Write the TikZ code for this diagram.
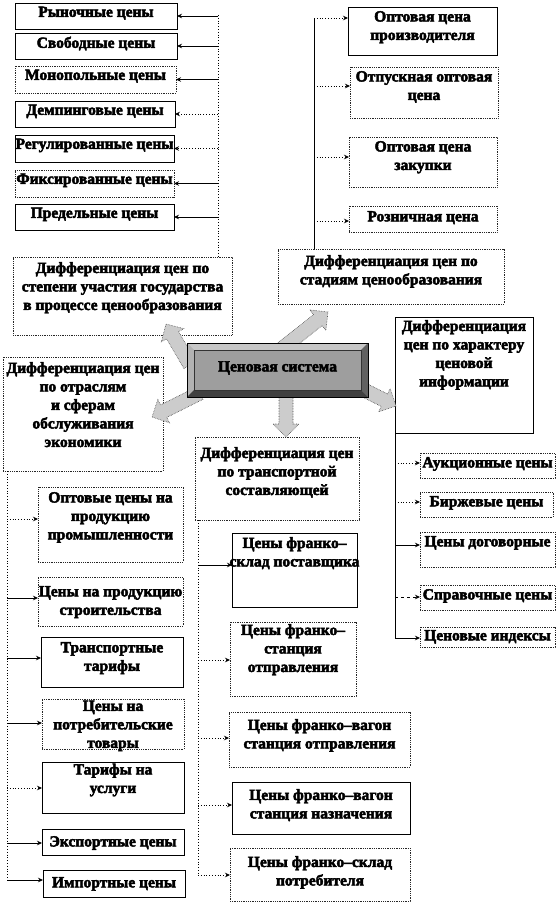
\documentclass[tikz,border=0pt]{standalone}
\usepackage{fontspec}
\setmainfont{Liberation Serif}[BoldFeatures={FakeBold=3}]
\usetikzlibrary{arrows.meta,calc}
\tikzset{
 bxs/.style={draw=black, line width=0.8pt, inner sep=0pt, outer sep=0pt},
 bxd/.style={draw=black!85, line width=0.8pt, densely dotted, inner sep=0pt, outer sep=0pt},
 txt/.style={font=\fontsize{15.5}{18.5}\selectfont\bfseries, align=center, inner sep=0pt},
 trunks/.style={line width=0.8pt},
 trunkd/.style={line width=0.8pt, dotted},
 cs/.style={line width=0.8pt, -{Stealth[length=5pt,width=4.5pt]}},
 cd/.style={cs, dotted},
 barrow/.style={draw=black!70, densely dotted, line width=0.6pt, fill=black!20},
}
\newcommand\bx[8][4]{%
 \node[#3, anchor=north west, minimum width={#6pt-#4pt}, minimum height={#7pt-#5pt}] (#2) at (#4,#5) {};
 \node[txt, anchor=north] (#2t) at ([yshift=-#1pt]#2.north) {#8};
}
\newcommand\barr[4]{%
 \pgfmathsetmacro\bang{atan2(-(#4-#2),#3-#1)}%
 \pgfmathsetmacro\blen{veclen(#3-#1,#4-#2)}%
 \begin{scope}[shift={(#1,#2)},rotate=\bang]
 \draw[barrow] (0,-7) -- (\blen-13,-7) -- (\blen-13,-13) -- (\blen,0) -- (\blen-13,13) -- (\blen-13,7) -- (0,7) -- cycle;
 \end{scope}}
\begin{document}
\begin{tikzpicture}[x=1pt,y=-1pt]
\useasboundingbox[fill=white] (0,0) rectangle (557,905);
% state participation
\bx[3.5]{g1}{bxs}{15}{3}{177}{29}{Рыночные цены}
\bx[3.5]{g2}{bxs}{15}{33}{177}{59}{Свободные цены}
\bx[3.5]{g3}{bxd}{15}{66}{176}{93}{Монопольные цены}
\bx[3.5]{g4}{bxs}{15}{101}{175}{127}{Демпинговые цены}
\bx[3.5]{g5}{bxs}{15}{135}{174}{162}{Регулированные цены}
\bx[3.5]{g6}{bxd}{15}{170}{174}{197}{Фиксированные цены}
\bx[3.5]{g7}{bxs}{15}{204}{174}{230}{Предельные цены}
\bx[5]{gov}{bxd}{13}{257}{232}{335}{Дифференциация цен по\\степени участия государства\\в процессе ценообразования}
\coordinate (gtop) at (218,15);
\draw[trunkd] (gtop) -- (gtop |- gov.north);
\draw[cs] (gtop |- g1.east) -- (g1.east);
\draw[cs] (gtop |- g2.east) -- (g2.east);
\draw[cs] (gtop |- g3.east) -- (g3.east);
\draw[cd] (gtop |- g4.east) -- (g4.east);
\draw[cd] (gtop |- g5.east) -- (g5.east);
\draw[cs] (gtop |- g6.east) -- (g6.east);
\draw[cs] (gtop |- g7.east) -- (g7.east);
% stages
\bx[4]{s1}{bxs}{348}{7}{497}{55}{Оптовая цена\\производителя}
\bx[4]{s2}{bxd}{350}{67}{498}{118}{Отпускная оптовая\\цена}
\bx[4]{s3}{bxd}{349}{137}{497}{187}{Оптовая цена\\закупки}
\bx[5]{s4}{bxd}{349}{206}{497}{232}{Розничная цена}
\bx[6]{st}{bxd}{278}{249}{504}{304}{Дифференциация цен по\\стадиям ценообразования}
\coordinate (sa1) at (314,18);
\coordinate (sa2) at (314,86);
\coordinate (sa3) at (314,157);
\coordinate (sa4) at (314,221);
\draw[trunks] (sa1) -- (sa1 |- st.north);
\draw[cd] (sa1) -- (sa1 -| s1.west);
\draw[cd] (sa2) -- (sa2 -| s2.west);
\draw[cd] (sa3) -- (sa3 -| s3.west);
\draw[cd] (sa4) -- (sa4 -| s4.west);
% branches
\bx[5]{lf}{bxd}{3}{357}{163}{471}{Дифференциация цен\\по отраслям\\и сферам\\обслуживания\\экономики}
\bx[5]{l1}{bxd}{38}{487}{183}{562}{Оптовые цены на\\продукцию\\промышленности}
\bx[9]{l2}{bxd}{38}{577}{183}{626}{Цены на продукцию\\строительства}
\bx[5]{l3}{bxs}{41}{637}{183}{687}{Транспортные\\тарифы}
\bx[1.5]{l4}{bxd}{42}{699}{184}{749}{Цены на\\потребительские\\товары}
\bx[1.5]{l5}{bxs}{42}{762}{184}{813}{Тарифы на\\услуги}
\bx[7]{l6}{bxs}{42}{829}{184}{855}{Экспортные цены}
\bx[7]{l7}{bxs}{43}{870}{185}{897}{Импортные цены}
\coordinate (la1) at (7,519);
\coordinate (la2) at (7,598);
\coordinate (la3) at (7,658);
\coordinate (la4) at (7,723);
\coordinate (la5) at (7,788);
\coordinate (la6) at (7,843);
\coordinate (la7) at (7,880);
\draw[trunkd] (la7 |- lf.south) -- (la7);
\draw[cd] (la1) -- (la1 -| l1.west);
\draw[cs] (la2) -- (la2 -| l2.west);
\draw[cs] (la3) -- (la3 -| l3.west);
\draw[cs] (la4) -- (la4 -| l4.west);
\draw[cd] (la5) -- (la5 -| l5.west);
\draw[cs] (la6) -- (la6 -| l6.west);
\draw[cs] (la7) -- (la7 -| l7.west);
% transport
\bx[10]{tr}{bxd}{195}{437}{359}{520}{Дифференциация цен\\по транспортной\\составляющей}
\bx[4]{t1}{bxs}{232}{533}{357}{607}{Цены франко–\\склад поставщика}
\bx[2]{t2}{bxd}{230}{622}{356}{696}{Цены франко–\\станция\\отправления}
\bx[7]{t3}{bxd}{229}{712}{410}{767}{Цены франко–вагон\\станция отправления}
\bx[7]{t4}{bxs}{232}{782}{410}{834}{Цены франко–вагон\\станция назначения}
\bx[8]{t5}{bxd}{230}{848}{410}{901}{Цены франко–склад\\потребителя}
\coordinate (ta1) at (198,565);
\coordinate (ta2) at (198,660);
\coordinate (ta3) at (198,738);
\coordinate (ta4) at (198,805);
\coordinate (ta5) at (198,875);
\draw[trunkd] (ta5 |- tr.south) -- (ta5);
\draw[cs] (ta1) -- (ta1 -| t1.west);
\draw[cd] (ta2) -- (ta2 -| t2.west);
\draw[cd] (ta3) -- (ta3 -| t3.west);
\draw[cd] (ta4) -- (ta4 -| t4.west);
\draw[cd] (ta5) -- (ta5 -| t5.west);
% information
\bx[3]{ch}{bxs}{395}{317}{533}{433}{Дифференциация\\цен по характеру\\ценовой\\информации}
\bx[4]{c1}{bxd}{420}{453}{555}{478}{Аукционные цены}
\bx[4]{c2}{bxd}{420}{492}{553}{517}{Биржевые цены}
\bx[4]{c3}{bxd}{420}{532}{555}{567}{Цены договорные}
\bx[4]{c4}{bxd}{420}{585}{555}{610}{Справочные цены}
\bx[3]{c5}{bxd}{420}{627}{555}{647}{Ценовые индексы}
\coordinate (ca1) at (395,463);
\coordinate (ca2) at (395,502);
\coordinate (ca3) at (395,545);
\coordinate (ca4) at (395,597);
\coordinate (ca5) at (395,638);
\draw[trunks] (ca5 |- ch.south) -- (ca5);
\draw[cd] (ca1) -- (ca1 -| c1.west);
\draw[cd] (ca2) -- (ca2 -| c2.west);
\draw[cs] (ca3) -- (ca3 -| c3.west);
\draw[cs, dashed] (ca4) -- (ca4 -| c4.west);
\draw[cs] (ca5) -- (ca5 -| c5.west);
% block arrows
\barr{190}{365}{166}{324}
\barr{280}{350}{328}{312}
\barr{200}{393}{152}{417}
\barr{286}{392}{286}{437}
\barr{360}{388}{396}{406}
% central box
\node[minimum width=181pt, minimum height=54pt, anchor=north west, inner sep=0pt, outer sep=0pt] (cen) at (187,343) {};
\fill[black!38] (cen.north west) rectangle (cen.south east);
\fill[black!22] (cen.north west) -- (cen.north east) -- ($(cen.north east)+(-7,7)$) -- ($(cen.north west)+(7,7)$) -- cycle;
\fill[black!30] (cen.north west) -- ($(cen.north west)+(7,7)$) -- ($(cen.south west)+(7,-7)$) -- (cen.south west) -- cycle;
\fill[black!62] (cen.north east) -- (cen.south east) -- ($(cen.south east)+(-7,-7)$) -- ($(cen.north east)+(-7,7)$) -- cycle;
\fill[black!75] (cen.south west) -- (cen.south east) -- ($(cen.south east)+(-7,-7)$) -- ($(cen.south west)+(7,-7)$) -- cycle;
\draw[black, line width=0.6pt] (cen.north west) rectangle (cen.south east);
\draw[black!80, line width=0.5pt] ($(cen.north west)+(7,7)$) rectangle ($(cen.south east)+(-7,-7)$);
\node[txt] (cent) at ([yshift=2pt]cen.center) {Ценовая система};
\end{tikzpicture}
\end{document}
